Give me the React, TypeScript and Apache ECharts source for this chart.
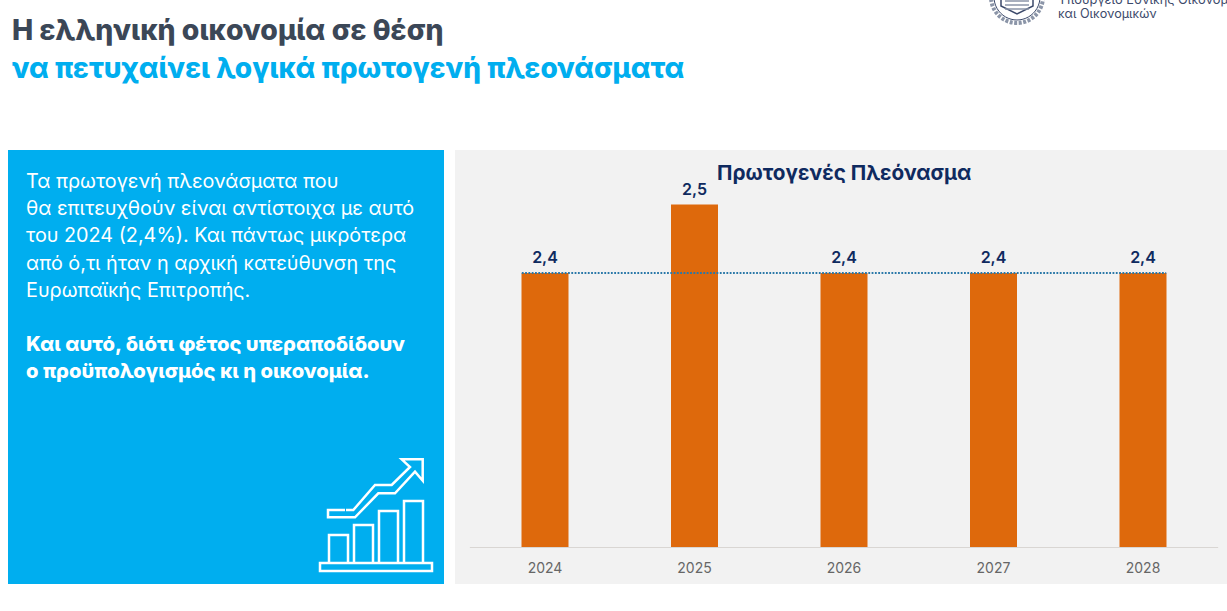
import React, { useEffect, useRef } from "react";
import * as echarts from "echarts";

const years = ["2024", "2025", "2026", "2027", "2028"];
const surplus = [2.4, 2.5, 2.4, 2.4, 2.4];
const refLevel = 2.4;
const chartTitle = "Πρωτογενές Πλεόνασμα";
const headline1 = "Η ελληνική οικονομία σε θέση";
const headline2 = "να πετυχαίνει λογικά πρωτογενή πλεονάσματα";
const bodyLines = [
  "Τα πρωτογενή πλεονάσματα που",
  "θα επιτευχθούν είναι αντίστοιχα με αυτό",
  "του 2024 (2,4%). Και πάντως μικρότερα",
  "από ό,τι ήταν η αρχική κατεύθυνση της",
  "Ευρωπαϊκής Επιτροπής.",
];
const boldLines = [
  "Και αυτό, διότι φέτος υπεραποδίδουν",
  "ο προϋπολογισμός κι η οικονομία.",
];
const logoLines = ["Υπουργείο Εθνικής Οικονομίας", "και Οικονομικών"];

const FONT = "Inter, 'Noto Sans', sans-serif";
const CYAN = "#00aeef";
const NAVY = "#0f2a5f";
const ORANGE = "#de690c";

function txt(x: number, y: number, text: string, size: number, weight: any, fill: string): any {
  return {
    type: "text", x, y,
    style: { text, fontFamily: FONT, fontSize: size, fontWeight: weight, fill, textVerticalAlign: "middle", verticalAlign: "middle" },
  };
}

const whiteLine = { stroke: "#fff", lineWidth: 2.5, fill: "none" };
const iconBars = [
  [329, 535, 348],
  [354, 525, 373],
  [379, 511, 398],
  [404, 501, 423],
];

function buildGraphic(): any[] {
  const g: any[] = [
    { type: "rect", z: -10, shape: { x: 8, y: 150, width: 436, height: 434 }, style: { fill: CYAN } },
    { type: "rect", z: -10, shape: { x: 455, y: 150, width: 772, height: 434 }, style: { fill: "#f2f2f2" } },
    txt(12, 29, headline1, 28.4, 800, "#3b4757"),
    txt(12, 68, headline2, 28, 800, CYAN),
  ];
  bodyLines.forEach((t, i) => g.push(txt(26, 181 + i * 27.2, t, 19.8, 400, "#fff")));
  boldLines.forEach((t, i) => g.push(txt(26, 343 + i * 27, t, 20.2, 800, "#fff")));
  g.push(txt(1058, -1, logoLines[0], 12.8, 400, "#3c4a6b"));
  g.push(txt(1058, 13, logoLines[1], 12.6, 400, "#3c4a6b"));

  // emblem
  g.push({ type: "circle", shape: { cx: 1017, cy: -3, r: 26 }, style: { fill: "none", stroke: "#8b95a8", lineWidth: 4, lineDash: [3, 1.5] } });
  g.push({ type: "circle", shape: { cx: 1017, cy: -3, r: 23 }, style: { fill: "none", stroke: "#3c4a6b", lineWidth: 1 } });
  g.push({ type: "polygon", shape: { points: [[1001, -2], [1033, -2], [1033, 6], [1017, 14], [1001, 6]] }, style: { fill: "#fff", stroke: "#3c4a6b", lineWidth: 1.5 } });
  [1, 5, 9].forEach((y) => g.push({ type: "line", shape: { x1: 1005, y1: y, x2: 1029, y2: y }, style: { stroke: "#8b95a8", lineWidth: 1.5 } }));

  // icon
  iconBars.forEach(([x1, top, x2]) =>
    g.push({ type: "polyline", shape: { points: [[x1, 562], [x1, top], [x2, top], [x2, 562]] }, style: whiteLine })
  );
  g.push({ type: "rect", shape: { x: 320, y: 563, width: 112, height: 8 }, style: whiteLine });
  g.push({
    type: "polyline",
    shape: {
      points: [[345, 510], [328, 510], [328, 517.3], [355, 517.3], [378.3, 493.3], [395, 493.3], [415, 471.7], [422.7, 480.7], [422.7, 459.3], [401.7, 459.3], [410, 467], [391.7, 485], [375, 485], [353.3, 510], [346, 510]],
    },
    style: whiteLine,
  });
  return g;
}

export default function App() {
  const ref = useRef<HTMLDivElement>(null);
  useEffect(() => {
    document.body.style.margin = "0";
    document.body.style.background = "#fff";
    const chart = echarts.init(ref.current!, undefined, { renderer: "svg" });
    chart.setOption({
      animation: false,
      backgroundColor: "#ffffff",
      graphic: { elements: buildGraphic() },
      title: {
        text: chartTitle, left: 717, top: 162, padding: 0,
        textStyle: { fontFamily: FONT, fontSize: 20.7, fontWeight: 700, color: NAVY },
      },
      grid: { left: 470.25, width: 747.5, top: 204.5, height: 342.5, containLabel: false },
      xAxis: [
        {
          type: "category", data: years,
          axisTick: { show: false },
          axisLine: { lineStyle: { color: "#d9d6d3", width: 1 } },
          axisLabel: { color: "#666666", fontFamily: FONT, fontSize: 14, margin: 13 },
        },
        { type: "value", min: -0.5, max: 4.5, show: false },
      ],
      yAxis: { type: "value", min: 2, max: 2.5, show: false, splitLine: { show: false } },
      series: [
        {
          type: "bar", data: surplus, barWidth: 47, xAxisIndex: 0,
          itemStyle: { color: ORANGE },
          label: {
            show: true, position: "top", distance: 8,
            formatter: (p: any) => String(p.value).replace(".", ","),
            color: NAVY, fontFamily: FONT, fontSize: 16, fontWeight: 600,
          },
        },
        {
          type: "line", xAxisIndex: 1, symbol: "none", silent: true,
          data: [[-0.155, refLevel], [4.155, refLevel]],
          lineStyle: { color: "#2a78a8", width: 1.8, type: [1.8, 1.5] },
        },
      ],
    });
    return () => chart.dispose();
  }, []);
  return <div ref={ref} style={{ width: 1227, height: 611 }} />;
}
